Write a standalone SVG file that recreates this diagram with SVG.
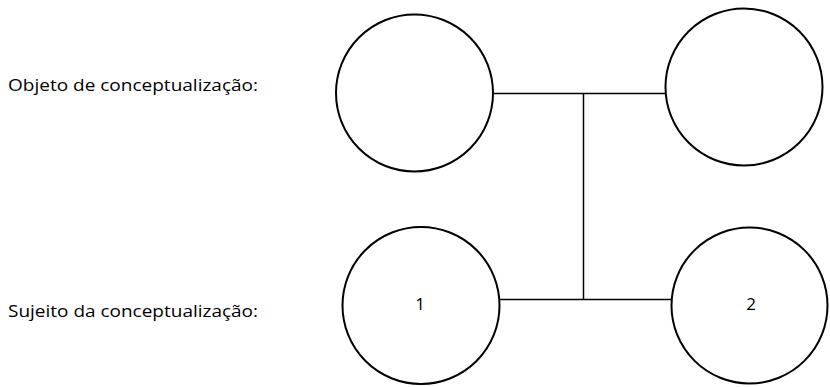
<svg xmlns="http://www.w3.org/2000/svg" width="830" height="387" viewBox="0 0 830 387">
<style>
.n{fill:#fff;stroke:#000;stroke-width:2}
.c{stroke:#000;stroke-width:1.5;fill:none}
.t{font-family:"Open Sans","Liberation Sans",sans-serif;font-size:17px;fill:#000}
</style>
<rect width="830" height="387" fill="#fff"/>
<text class="t" x="8" y="91" textLength="250" lengthAdjust="spacingAndGlyphs">Objeto de conceptualização:</text>
<text class="t" x="8" y="317" textLength="250" lengthAdjust="spacingAndGlyphs">Sujeito da conceptualização:</text>
<g id="connectors">
<line class="c" x1="493" y1="93.5" x2="665" y2="93.5"/>
<line class="c" x1="500" y1="299.5" x2="673" y2="299.5"/>
<line class="c" x1="583.5" y1="93.5" x2="583.5" y2="299.5"/>
</g>
<g id="obj1"><circle class="n" cx="414.5" cy="93" r="78.5"/></g>
<g id="obj2"><circle class="n" cx="744" cy="87" r="78.5"/></g>
<g id="suj1"><circle class="n" cx="421" cy="305.5" r="78.5"/><text class="t" x="420" y="310" text-anchor="middle">1</text></g>
<g id="suj2"><circle class="n" cx="749.5" cy="305.5" r="78"/><text class="t" x="751" y="310" text-anchor="middle">2</text></g>
</svg>
